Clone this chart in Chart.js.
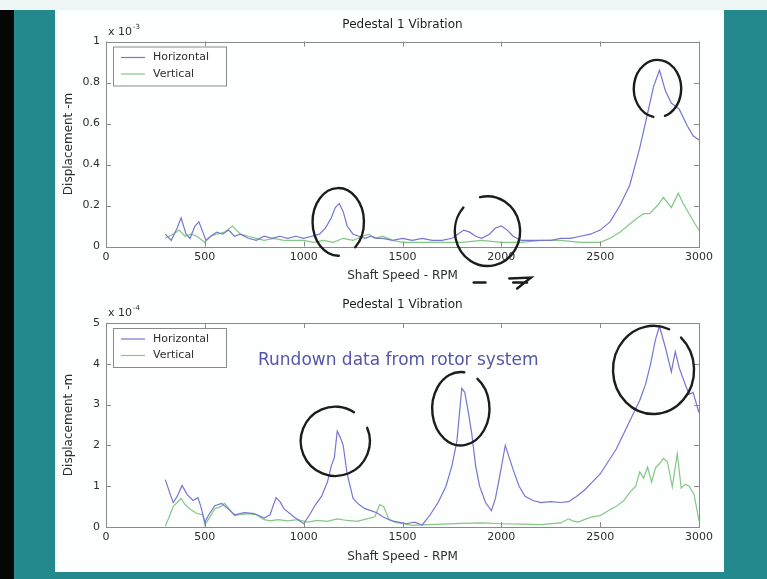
<!DOCTYPE html>
<html><head><meta charset="utf-8">
<script src="https://cdn.jsdelivr.net/npm/chart.js@4.4.1/dist/chart.umd.min.js"></script>
<style>
html,body{margin:0;padding:0;width:767px;height:579px;overflow:hidden;background:#23898d;}
#topstrip{position:absolute;left:0;top:0;width:767px;height:10px;background:#eef5f5;}
#black{position:absolute;left:0;top:10px;width:14px;height:569px;background:#060606;}
#slide{position:absolute;left:55px;top:10px;width:669px;height:562px;background:#fdfefe;}
canvas{position:absolute;left:0;}
#c1{top:0;}
#c2{top:290px;}
#note{position:absolute;left:258px;top:349px;font:17px "DejaVu Sans",Arial,sans-serif;line-height:20px;color:#5656a8;white-space:nowrap;}
</style></head>
<body>
<div id="topstrip"></div><div id="black"></div><div id="slide"></div>
<canvas id="c1" width="767" height="290"></canvas>
<canvas id="c2" width="767" height="289"></canvas>
<div id="note">Rundown data from rotor system</div>
<script>
// ---------- data ----------
const chartTitle = 'Pedestal 1 Vibration';
const xTitle = 'Shaft Speed - RPM';
const yTitle = 'Displacement -m';
const seriesNames = ['Horizontal', 'Vertical'];
const xTickValues = [0, 500, 1000, 1500, 2000, 2500, 3000];
const xTickLabels = ['0', '500', '1000', '1500', '2000', '2500', '3000'];
const topYTickValues = [0, 0.2, 0.4, 0.6, 0.8, 1];
const topYTickLabels = ['0', '0.2', '0.4', '0.6', '0.8', '1'];
const botYTickValues = [0, 1, 2, 3, 4, 5];
const botYTickLabels = ['0', '1', '2', '3', '4', '5'];
const topExponent = '-3';
const botExponent = '-4';

// top plot (x 10^-3 m)
const topHorizRpm = [300,330,360,380,405,425,450,470,490,505,530,560,590,620,650,680,720,760,800,840,880,920,960,1000,1040,1080,1110,1140,1160,1180,1200,1220,1250,1280,1310,1340,1370,1400,1450,1500,1550,1600,1650,1700,1750,1780,1810,1840,1870,1900,1940,1970,2000,2030,2060,2100,2150,2200,2250,2300,2350,2400,2450,2500,2550,2600,2650,2700,2740,2770,2800,2830,2860,2900,2940,2970,3000];
const topHorizVal = [0.06,0.03,0.09,0.14,0.06,0.04,0.10,0.12,0.07,0.03,0.05,0.07,0.06,0.08,0.05,0.06,0.04,0.03,0.05,0.04,0.05,0.04,0.05,0.04,0.05,0.06,0.09,0.14,0.19,0.21,0.17,0.10,0.06,0.05,0.04,0.05,0.04,0.04,0.03,0.04,0.03,0.04,0.03,0.03,0.04,0.06,0.08,0.07,0.05,0.04,0.06,0.09,0.10,0.08,0.05,0.03,0.03,0.03,0.03,0.04,0.04,0.05,0.06,0.08,0.12,0.20,0.30,0.48,0.65,0.78,0.86,0.76,0.70,0.67,0.59,0.54,0.52];
const topVertRpm = [300,340,370,400,430,460,500,530,560,600,640,680,720,760,800,850,900,950,1000,1050,1100,1150,1200,1250,1300,1330,1360,1400,1450,1500,1600,1700,1800,1900,2000,2100,2200,2300,2400,2450,2500,2550,2600,2650,2690,2720,2750,2790,2820,2860,2895,2920,2950,2980,3000];
const topVertVal = [0.04,0.06,0.08,0.05,0.06,0.05,0.02,0.05,0.06,0.07,0.10,0.06,0.05,0.04,0.03,0.04,0.03,0.03,0.03,0.02,0.03,0.02,0.04,0.03,0.05,0.06,0.04,0.05,0.03,0.02,0.02,0.02,0.02,0.03,0.02,0.02,0.03,0.03,0.02,0.02,0.02,0.04,0.07,0.11,0.14,0.16,0.16,0.20,0.24,0.19,0.26,0.21,0.16,0.11,0.08];

// bottom plot (x 10^-4 m)
const botHorizRpm = [300,325,340,360,385,410,440,465,480,500,520,550,585,610,650,700,750,800,830,860,880,900,950,1000,1030,1060,1090,1120,1140,1155,1170,1185,1200,1220,1250,1280,1310,1340,1370,1400,1440,1480,1520,1560,1600,1640,1680,1720,1750,1775,1800,1815,1830,1850,1870,1890,1920,1950,1970,1990,2020,2040,2060,2090,2120,2160,2200,2250,2300,2340,2380,2420,2460,2500,2540,2580,2620,2660,2700,2730,2755,2780,2800,2830,2860,2880,2900,2930,2950,2970,3000];
const botHorizVal = [1.16,0.80,0.60,0.75,1.02,0.80,0.65,0.72,0.50,0.12,0.30,0.52,0.58,0.48,0.30,0.35,0.33,0.22,0.30,0.72,0.62,0.45,0.25,0.08,0.30,0.55,0.75,1.10,1.50,1.70,2.35,2.20,2.00,1.30,0.70,0.55,0.45,0.40,0.35,0.25,0.16,0.12,0.08,0.12,0.05,0.30,0.60,1.00,1.50,2.10,3.40,3.30,2.90,2.30,1.50,1.00,0.60,0.40,0.70,1.20,2.00,1.70,1.40,1.00,0.75,0.65,0.60,0.62,0.60,0.62,0.75,0.90,1.10,1.30,1.60,1.90,2.30,2.70,3.10,3.50,4.00,4.60,4.92,4.40,3.80,4.30,3.90,3.50,3.25,3.30,2.80,1.96];
const botVertRpm = [300,320,340,360,380,400,430,460,490,500,520,550,580,600,630,650,680,720,760,800,830,870,920,970,1020,1070,1120,1170,1220,1270,1320,1360,1385,1405,1430,1460,1500,1550,1600,1700,1800,1900,2000,2100,2200,2300,2340,2360,2390,2420,2460,2500,2540,2580,2620,2650,2680,2700,2720,2740,2760,2780,2800,2820,2840,2865,2890,2910,2930,2950,2975,3000];
const botVertVal = [0.02,0.25,0.50,0.60,0.70,0.55,0.42,0.33,0.30,0.05,0.20,0.45,0.50,0.58,0.40,0.28,0.30,0.33,0.30,0.18,0.15,0.18,0.15,0.18,0.12,0.16,0.14,0.20,0.16,0.14,0.20,0.25,0.55,0.50,0.20,0.12,0.08,0.04,0.05,0.07,0.09,0.10,0.08,0.07,0.06,0.10,0.20,0.15,0.12,0.18,0.25,0.28,0.40,0.50,0.65,0.85,1.00,1.35,1.20,1.47,1.10,1.45,1.55,1.68,1.60,0.98,1.80,0.95,1.05,1.00,0.80,0.15];

// hand-drawn ink circles (data coordinates)
const inkTop = [
  {x:1175, y:0.12, rx:130, ry:0.165, gapAt:1.2, gap:0.7},
  {x:1930, y:0.075, rx:165, ry:0.17, gapAt:-2.1, gap:0.6},
  {x:2790, y:0.77, rx:120, ry:0.14, gapAt:1.5, gap:0.5}
];
const inkBot = [
  {x:1160, y:2.1, rx:175, ry:0.85, gapAt:-0.7, gap:0.6},
  {x:1795, y:2.9, rx:145, ry:0.9, gapAt:-1.2, gap:0.5},
  {x:2770, y:3.85, rx:205, ry:1.08, gapAt:-1.0, gap:0.35}
];

// ---------- styling ----------
const FONT = '"DejaVu Sans", Arial, sans-serif';
const HCOL = '#7676d0';
const VCOL = '#86c686';
const AXCOL = '#8a8a8a';
const TXT = '#2e2e2e';

function pts(r, v) { return r.map((x, i) => ({x: x, y: v[i]})); }

const framePlugin = {
  id: 'frame',
  afterDatasetsDraw(chart) {
    const {ctx, chartArea: a, scales: {x, y}} = chart;
    ctx.save();
    ctx.strokeStyle = AXCOL; ctx.lineWidth = 1;
    ctx.strokeRect(Math.round(a.left) + 0.5, Math.round(a.top) + 0.5, Math.round(a.width), Math.round(a.height));
    ctx.beginPath();
    x.ticks.forEach(t => {
      const p = Math.round(x.getPixelForValue(t.value)) + 0.5;
      ctx.moveTo(p, a.bottom); ctx.lineTo(p, a.bottom - 5);
      ctx.moveTo(p, a.top); ctx.lineTo(p, a.top + 5);
    });
    y.ticks.forEach(t => {
      const p = Math.round(y.getPixelForValue(t.value)) + 0.5;
      ctx.moveTo(a.left, p); ctx.lineTo(a.left + 5, p);
      ctx.moveTo(a.right, p); ctx.lineTo(a.right - 5, p);
    });
    ctx.stroke();
    // title centred over the axes
    ctx.fillStyle = '#1e1e1e';
    ctx.font = '12px ' + FONT;
    ctx.textAlign = 'center'; ctx.textBaseline = 'middle';
    ctx.fillText(chart.options.plugins.axTitle.text, (a.left + a.right) / 2, a.top - chart.options.plugins.axTitle.offset);
    // exponent label
    const ex = chart.options.plugins.exponent;
    ctx.textAlign = 'left';
    ctx.fillStyle = TXT;
    ctx.font = '11px ' + FONT;
    ctx.textBaseline = 'alphabetic';
    ctx.fillText('x 10', a.left + 2, a.top - 7);
    const w = ctx.measureText('x 10').width;
    ctx.font = '7px ' + FONT;
    ctx.fillText(ex, a.left + 3 + w, a.top - 13);
    ctx.restore();
  },
  afterDraw(chart) {
    const {ctx, chartArea: a} = chart;
    // legend box
    const bx = a.left + 7, by = a.top + 5, bw = 113, bh = 39;
    ctx.save();
    ctx.fillStyle = '#ffffff';
    ctx.fillRect(bx, by, bw, bh);
    ctx.strokeStyle = AXCOL; ctx.lineWidth = 1;
    ctx.strokeRect(bx + 0.5, by + 0.5, bw, bh);
    chart.data.datasets.forEach((ds, i) => {
      const yy = by + 11 + i * 16.5;
      ctx.strokeStyle = ds.borderColor; ctx.lineWidth = 1.2;
      ctx.beginPath(); ctx.moveTo(bx + 8, yy); ctx.lineTo(bx + 32, yy); ctx.stroke();
      ctx.fillStyle = TXT; ctx.font = '11px ' + FONT; ctx.textBaseline = 'middle';
      ctx.fillText(ds.label, bx + 40, yy);
    });
    // ink
    const ink = chart.options.plugins.ink;
    const {x, y} = chart.scales;
    ctx.strokeStyle = '#1c1c1c'; ctx.lineWidth = 2.4; ctx.lineCap = 'round';
    ink.list.forEach(c => {
      const cx = x.getPixelForValue(c.x), cy = y.getPixelForValue(c.y);
      const rx = Math.abs(x.getPixelForValue(c.x + c.rx) - cx);
      const ry = Math.abs(y.getPixelForValue(c.y + c.ry) - cy);
      ctx.beginPath();
      ctx.ellipse(cx, cy, rx, ry, 0, c.gapAt + c.gap / 2, c.gapAt - c.gap / 2 + Math.PI * 2);
      ctx.stroke();
    });
    if (ink.arrow) {
      const b = a.bottom + 36;
      const p = v => x.getPixelForValue(v);
      ctx.beginPath();
      ctx.moveTo(p(1860), b); ctx.lineTo(p(1920), b);
      ctx.moveTo(p(2040), b - 4); ctx.lineTo(p(2150), b - 5); ctx.lineTo(p(2080), b + 6);
      ctx.moveTo(p(2060), b); ctx.lineTo(p(2130), b);
      ctx.stroke();
    }
    ctx.restore();
  }
};

function makeChart(id, H, cfg) {
  const chartTop = cfg.chartTop, chartBottom = cfg.chartBottom;
  return new Chart(document.getElementById(id), {
    type: 'line',
    data: {
      datasets: [
        {label: seriesNames[0], data: pts(cfg.hr, cfg.hv), borderColor: HCOL, borderWidth: 1.2, pointRadius: 0, tension: 0, fill: false},
        {label: seriesNames[1], data: pts(cfg.vr, cfg.vv), borderColor: VCOL, borderWidth: 1.2, pointRadius: 0, tension: 0, fill: false}
      ]
    },
    options: {
      responsive: false, animation: false, devicePixelRatio: 1,
      layout: {padding: {left: 0, right: 68, top: chartTop, bottom: 0}},
      plugins: {
        legend: {display: false}, tooltip: {enabled: false}, title: {display: false},
        axTitle: {text: chartTitle, offset: cfg.titleOffset},
        exponent: cfg.exp,
        ink: {list: cfg.ink, arrow: cfg.arrow}
      },
      scales: {
        x: {
          type: 'linear', min: 0, max: 3000,
          afterBuildTicks: s => { s.ticks = xTickValues.map(v => ({value: v})); },
          ticks: {padding: 4, color: TXT, font: {family: FONT, size: 11}, maxRotation: 0,
                  callback: (v, i) => xTickLabels[i]},
          grid: {display: false, drawTicks: false}, border: {display: false},
          title: {display: true, text: xTitle, color: TXT, font: {family: FONT, size: 12}, padding: {top: 0, bottom: cfg.xTitleBottom}},
          afterFit: s => { s.height = H - chartBottom; }
        },
        y: {
          type: 'linear', min: cfg.yTicks[0], max: cfg.yTicks[cfg.yTicks.length - 1],
          afterBuildTicks: s => { s.ticks = cfg.yTicks.map(v => ({value: v})); },
          ticks: {padding: 6, color: TXT, font: {family: FONT, size: 11}, callback: (v, i) => cfg.yLabels[i]},
          grid: {display: false, drawTicks: false}, border: {display: false},
          title: {display: true, text: yTitle, color: TXT, font: {family: FONT, size: 12}, padding: {top: 62, bottom: 0}},
          afterFit: s => { s.width = 106; }
        }
      }
    },
    plugins: [framePlugin]
  });
}

makeChart('c1', 290, {chartTop: 41.5, chartBottom: 246.5, titleOffset: 16.5, xTitleBottom: 6.8,
  hr: topHorizRpm, hv: topHorizVal, vr: topVertRpm, vv: topVertVal,
  yTicks: topYTickValues, yLabels: topYTickLabels, exp: topExponent, ink: inkTop, arrow: true});
makeChart('c2', 289, {chartTop: 33, chartBottom: 237, titleOffset: 18, xTitleBottom: 15.1,
  hr: botHorizRpm, hv: botHorizVal, vr: botVertRpm, vv: botVertVal,
  yTicks: botYTickValues, yLabels: botYTickLabels, exp: botExponent, ink: inkBot, arrow: false});
</script>
</body></html>
